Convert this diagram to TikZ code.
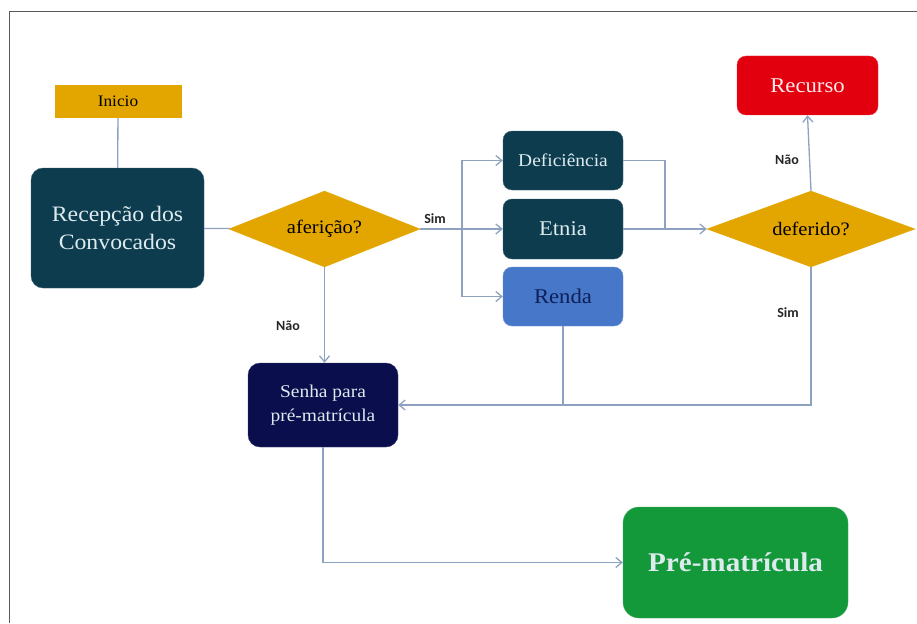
\documentclass[tikz,border=0pt]{standalone}
\usepackage{fontspec}
\setmainfont{Liberation Serif}[FakeStretch=1.08]
\newfontfamily\lblfont{Carlito}
\usetikzlibrary{shapes.geometric,arrows.meta}
\definecolor{gold}{HTML}{E3A600}
\definecolor{teal}{HTML}{0E3C4F}
\definecolor{rendablue}{HTML}{4677C8}
\definecolor{rendatext}{HTML}{0F1F5A}
\definecolor{recred}{HTML}{E2000F}
\definecolor{navy}{HTML}{0A0E4D}
\definecolor{prgreen}{HTML}{13983A}
\definecolor{wire}{HTML}{8EA2C0}
\definecolor{light}{HTML}{DDEBEE}
\begin{document}
\begin{tikzpicture}[x=1pt,y=-1pt]
\tikzset{
    box/.style={rounded corners=12pt, draw=#1!80!white, fill=#1, text=light, align=center, inner sep=0pt},
    ask/.style={diamond, shape aspect=2.6, fill=gold, draw=gold, inner sep=0pt, font=\fontsize{19}{22}\selectfont},
    wire/.style={draw=wire, line width=1.3pt},
    arr/.style={wire, -{Straight Barb[length=6pt,width=10pt]}},
    lbl/.style={font=\lblfont\bfseries\fontsize{14}{16}\selectfont, text=black!85},
}
\useasboundingbox (0,0) rectangle (917,623);
% frame
\draw[black!65, line width=1pt] (9,623) -- (9,12) -- (917,12);

% boxes
\node[fill=gold, minimum width=127pt, minimum height=33pt, inner sep=0pt,
      font=\fontsize{16}{18}\selectfont] (inicio) at (118,101.5) {Inicio};
\node[box=teal, minimum width=173pt, minimum height=120pt,
      font=\fontsize{22}{28}\selectfont] (recep) at (117.5,228) {Recepção dos\\Convocados};
\node[ask, minimum width=191pt, minimum height=76pt] (afer) at (324.5,229) {aferição?};
\node[box=teal, rounded corners=9pt, minimum width=120pt, minimum height=59pt,
      font=\fontsize{18}{20}\selectfont] (defic) at (563,160.5) {Deficiência};
\node[box=teal, rounded corners=9pt, minimum width=120pt, minimum height=60pt,
      font=\fontsize{21}{24}\selectfont] (etnia) at (563,229) {Etnia};
\node[box=rendablue, rounded corners=9pt, text=rendatext, minimum width=120pt, minimum height=59pt,
      font=\fontsize{21}{24}\selectfont] (renda) at (563,296.5) {Renda};
\node[ask, minimum width=208pt, minimum height=76pt] (defer) at (811,229) {deferido?};
\node[box=recred, rounded corners=9pt, text=white!92!red, minimum width=141pt, minimum height=59pt,
      font=\fontsize{21}{24}\selectfont] (recurso) at (807.5,85.5) {Recurso};
\node[box=navy, minimum width=150pt, minimum height=84pt,
      font=\fontsize{18}{24}\selectfont] (senha) at (323,405) {Senha para\\pré-matrícula};
\node[box=prgreen, rounded corners=16pt, minimum width=225pt, minimum height=111pt,
      font=\bfseries\fontsize{27}{30}\selectfont] (prem) at (735.5,562.5) {Pré-matrícula};

% junctions
\coordinate (split) at (462,229);
\coordinate (merge) at (665,229);

% connectors
\draw[wire] (inicio) -- (recep);
\draw[wire] (recep) -- (afer);
\draw[wire] (afer.east) -- (split);
\draw[arr] (split) |- (defic.west);
\draw[arr] (split) -- (etnia.west);
\draw[arr] (split) |- (renda.west);
\draw[wire] (defic.east) -| (merge);
\draw[arr] (etnia.east) -- (defer.west);
\draw[arr] (defer.north) -- (recurso.south);
\draw[arr] (defer.south) |- (senha.east);
\draw[wire] (renda.south) -- (renda.south |- senha.east);
\draw[arr] (afer.south) -- (afer.south |- senha.north);
\draw[arr] (senha.south) |- (prem.west);

% labels
\node[lbl] (simA) at (435,219) {Sim};
\node[lbl] (naoA) at (288,326) {Não};
\node[lbl] (naoB) at (787,160) {Não};
\node[lbl] (simB) at (788,313) {Sim};
\end{tikzpicture}
\end{document}
